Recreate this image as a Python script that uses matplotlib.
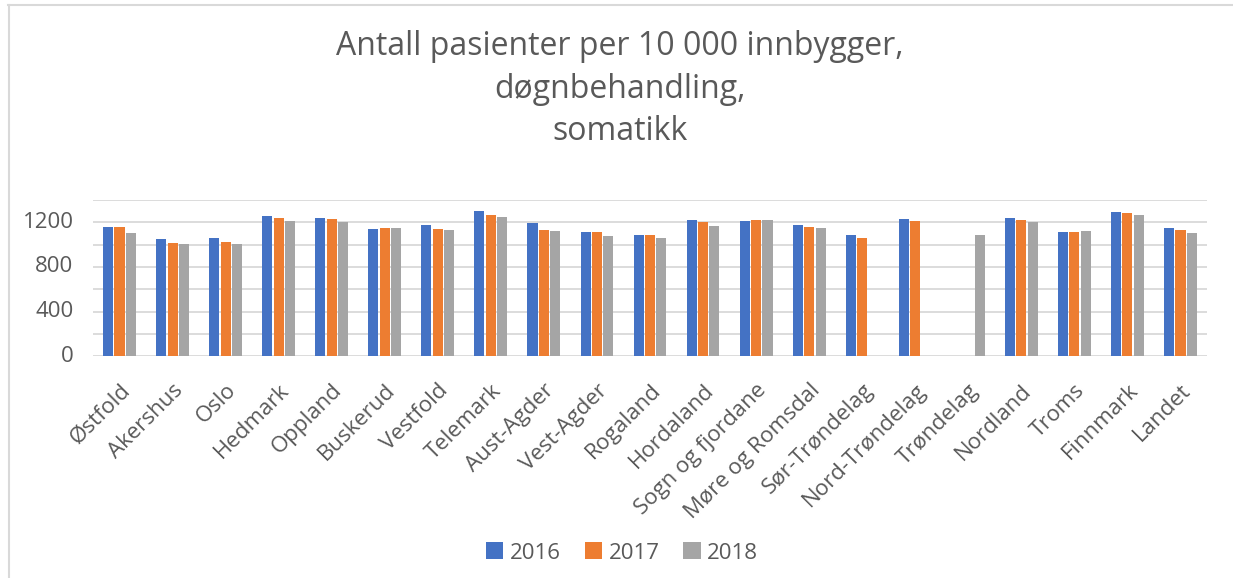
import matplotlib
matplotlib.use("Agg")
import matplotlib.pyplot as plt
import numpy as np
from matplotlib.lines import Line2D

categories = ["Østfold", "Akershus", "Oslo", "Hedmark", "Oppland", "Buskerud", "Vestfold",
              "Telemark", "Aust-Agder", "Vest-Agder", "Rogaland", "Hordaland",
              "Sogn og fjordane", "Møre og Romsdal", "Sør-Trøndelag", "Nord-Trøndelag",
              "Trøndelag", "Nordland", "Troms", "Finnmark", "Landet"]
nan = np.nan
v2016 = [1158, 1051, 1060, 1257, 1239, 1140, 1176, 1301, 1194, 1113, 1087, 1221,
         1212, 1176, 1087, 1230, nan, 1239, 1113, 1292, 1149]
v2017 = [1158, 1015, 1024, 1239, 1230, 1149, 1140, 1266, 1131, 1113, 1087, 1203,
         1221, 1158, 1060, 1212, nan, 1221, 1113, 1284, 1131]
v2018 = [1104, 1006, 1006, 1212, 1203, 1149, 1131, 1248, 1122, 1078, 1060, 1167,
         1221, 1149, nan, nan, 1087, 1203, 1122, 1266, 1104]
series_names = ["2016", "2017", "2018"]
colors = ["#4472C4", "#ED7D31", "#A5A5A5"]
yticks = [0, 400, 800, 1200]

plt.rcParams['font.family'] = ['Open Sans', 'DejaVu Sans']
W, H = 1233, 578
fig = plt.figure(figsize=(W / 100, H / 100), dpi=100)

# axes in pixel coords
x0, x1 = 93, 1207
ytop, ybot = 200, 356.3
ax = fig.add_axes([x0 / W, 1 - ybot / H, (x1 - x0) / W, (ybot - ytop) / H])

x = np.arange(len(categories))
bw = 0.19
step = 0.215
for i, (vals, c, name) in enumerate(zip([v2016, v2017, v2018], colors, series_names)):
    ax.bar(x + (i - 1) * step, vals, width=bw, color=c, label=name, zorder=3)

ax.set_xlim(-0.5, len(categories) - 0.5)
ax.set_ylim(0, 1400)
ax.set_yticks(yticks)
ax.set_yticks(np.arange(0, 1401, 200), minor=True)
ax.grid(True, which='both', axis='y', color='#D9D9D9', linewidth=1.3, zorder=0)
for s in ax.spines.values():
    s.set_visible(False)
ax.tick_params(axis='y', which='both', length=0, labelsize=16, labelcolor='#595959', pad=14)
ax.tick_params(axis='x', length=0, labelsize=16, labelcolor='#595959', pad=17)
ax.set_xticks(x)
ax.set_xticklabels(categories, rotation=45, ha='right', rotation_mode='anchor')
for lab in ax.get_yticklabels():
    lab.set_verticalalignment('center')

fig.text(620 / W, 1 - 89 / H, "Antall pasienter per 10 000 innbygger,\ndøgnbehandling,\nsomatikk",
         ha='center', va='center', fontsize=23, color='#595959', linespacing=1.37)

leg = fig.legend(loc='center', bbox_to_anchor=(622 / W, 1 - 553 / H), ncol=3, frameon=False,
                 fontsize=16, handlelength=0.77, handleheight=0.77, columnspacing=1.08,
                 handletextpad=0.3, labelcolor='#595959')

# chart border (top and left visible)
fig.add_artist(Line2D([8 / W, 1], [1 - 5 / H, 1 - 5 / H], color='#D9D9D9', linewidth=1.5))
fig.add_artist(Line2D([9 / W, 9 / W], [0, 1 - 5 / H], color='#D9D9D9', linewidth=1.5))

fig.savefig("out.png", dpi=100, facecolor='white')
